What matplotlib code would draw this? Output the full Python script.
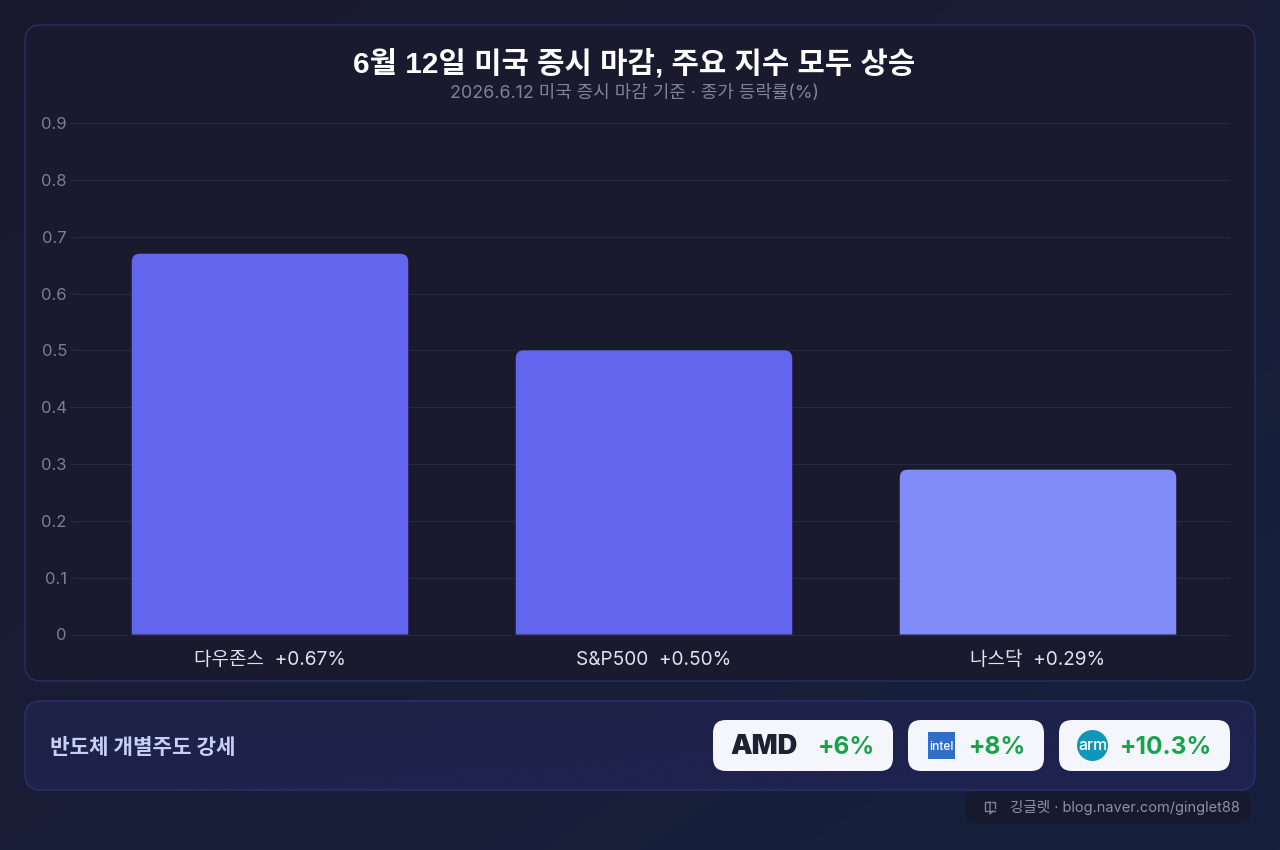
import numpy as np
import matplotlib
matplotlib.use('Agg')
import matplotlib.pyplot as plt
from matplotlib.patches import FancyBboxPatch, PathPatch, Rectangle, Circle
from matplotlib.path import Path

plt.rcParams['font.family'] = ['Inter', 'Noto Sans CJK KR', 'DejaVu Sans']

W, H = 1280, 850

TITLE = "6월 12일 미국 증시 마감, 주요 지수 모두 상승"
SUBTITLE = "2026.6.12 미국 증시 마감 기준 · 종가 등락률(%)"
BANNER = "반도체 개별주도 강세"
CREDIT = "깅글렛 · blog.naver.com/ginglet88"

indices = ["다우존스", "S&P500", "나스닥"]
changes = [0.67, 0.50, 0.29]
bar_colors = ["#6265ee", "#6265ee", "#818cf8"]
y_ticks = [0, 0.1, 0.2, 0.3, 0.4, 0.5, 0.6, 0.7, 0.8, 0.9]
y_tick_labels = ["0", "0.1", "0.2", "0.3", "0.4", "0.5", "0.6", "0.7", "0.8", "0.9"]

stocks = ["AMD", "intel", "arm"]
stock_gains = ["+6%", "+8%", "+10.3%"]


def rounded_box(ax, x0, y0, x1, y1, r, **kw):
    box = FancyBboxPatch((x0 + r, y0 + r), x1 - x0 - 2 * r, y1 - y0 - 2 * r,
                         boxstyle=f"round,pad={r},rounding_size={r}", **kw)
    ax.add_patch(box)
    return box


def diagonal_gradient(ax, extent, c0, c1, clip=None, zorder=1):
    c0 = np.array(matplotlib.colors.to_rgb(c0))
    c1 = np.array(matplotlib.colors.to_rgb(c1))
    xx, yy = np.meshgrid(np.linspace(0, 1, 200), np.linspace(0, 1, 200))
    t = ((xx + yy) / 2)[..., None]
    im = ax.imshow(c0 + (c1 - c0) * t, extent=extent, aspect='auto',
                   interpolation='bilinear', zorder=zorder)
    if clip is not None:
        im.set_clip_path(clip)
    return im


def top_rounded_bar(ax, x, width, height, rx, ry, color):
    # bar with only its two upper corners rounded, in data units
    l, r = x - width / 2, x + width / 2
    verts = [(l, 0), (l, height - ry), (l, height), (l + rx, height),
             (r - rx, height), (r, height), (r, height - ry), (r, 0), (l, 0)]
    codes = [Path.MOVETO, Path.LINETO, Path.CURVE3, Path.CURVE3,
             Path.LINETO, Path.CURVE3, Path.CURVE3, Path.LINETO, Path.CLOSEPOLY]
    ax.add_patch(PathPatch(Path(verts, codes), facecolor=color, edgecolor='none', zorder=3))


fig = plt.figure(figsize=(W / 100, H / 100), dpi=100)

# page layer, laid out in pixels
bg = fig.add_axes([0, 0, 1, 1], zorder=0)
bg.axis('off')
diagonal_gradient(bg, (0, W, H, 0), "#1a1a2e", "#16213e")

rounded_box(bg, 25, 25, 1255, 681, 16, facecolor="#1a1a2e", edgecolor="#2d2f6a", linewidth=0.9, zorder=2)

banner = rounded_box(bg, 25, 701, 1255, 790, 16, facecolor="none", edgecolor="#2f3272", linewidth=0.9, zorder=3)
diagonal_gradient(bg, (25, 1255, 790, 701), "#1e2347", "#1e2250", clip=banner, zorder=2)
bg.set_xlim(0, W)
bg.set_ylim(H, 0)

bg.text(634, 64, TITLE, ha='center', va='center', fontsize=21.4, fontweight='bold',
        color='white', family=['Liberation Sans', 'Noto Sans CJK KR'], zorder=5)
bg.text(634, 93, SUBTITLE, ha='center', va='center', fontsize=12.9, color="#7f8398", zorder=5)

bg.text(50, 747.5, BANNER, ha='left', va='center', fontsize=15.3, fontweight='bold', color="#c7d0f8", zorder=5)

# stock pills
pills = [(713, 893), (908, 1044), (1059, 1230)]
gain_x = [846, 997.5, 1165.5]
for (x0, x1), gain, gx in zip(pills, stock_gains, gain_x):
    rounded_box(bg, x0, 720, x1, 771, 13, facecolor="#f4f6fb", edgecolor='none', zorder=4)
    bg.text(gx, 747.5, gain, ha='center', va='center', fontsize=17.6, fontweight='bold', color="#16a34a", zorder=6)

bg.text(764, 747, stocks[0], ha='center', va='center', fontsize=19.6, fontweight='black', color="#1a2233", zorder=6)
bg.add_patch(Rectangle((928, 732), 27, 27, facecolor="#2f6fc9", edgecolor='none', zorder=5))
bg.text(941.5, 746.5, stocks[1], ha='center', va='center', fontsize=8.6, fontweight='medium', color='white', zorder=6)
bg.add_patch(Circle((1092.5, 745.5), 15.5, facecolor="#0f96bb", edgecolor='none', zorder=5))
bg.text(1092.5, 745.5, stocks[2], ha='center', va='center', fontsize=11.4, fontweight='medium', color='white', zorder=6)

# credit tag with its small book glyph
rounded_box(bg, 965, 791, 1251, 824, 14, facecolor="#161a2e", edgecolor='none', zorder=4)
bg.plot([995, 985, 985, 990], [811, 811, 802, 802], color="#7d8194", linewidth=1, zorder=5)
bg.plot([992, 995, 995], [802, 802, 808], color="#7d8194", linewidth=1, zorder=5)
bg.plot([990, 990, 993], [802, 814, 811], color="#7d8194", linewidth=1, zorder=5)
bg.text(1010, 807.5, CREDIT, ha='left', va='center', fontsize=10.5, color="#8d91a6", zorder=5)
bg.set_xlim(0, W)
bg.set_ylim(H, 0)

# bar chart
px_left, px_right, px_top, px_bottom = 78, 1230, 123, 634.5
ax = fig.add_axes([px_left / W, 1 - px_bottom / H, (px_right - px_left) / W, (px_bottom - px_top) / H], zorder=1)
ax.patch.set_alpha(0)
ax.set_xlim(-0.5, 2.5)
ax.set_ylim(0, 0.9)
for s in ax.spines.values():
    s.set_visible(False)

ax.set_yticks(y_ticks)
ax.set_yticklabels(y_tick_labels, fontsize=12, color="#7b7f94")
ax.tick_params(axis='y', length=6, width=0.8, color="#26283f", pad=2)
ax.grid(axis='y', color="#26283f", linewidth=0.8)
for line in ax.get_ygridlines():
    line.set_clip_on(False)
    line.set_solid_capstyle('butt')
ax.set_axisbelow(True)

x_pos = np.arange(len(indices))
ax.set_xticks(x_pos)
ax.set_xticklabels([f"{n}  +{v:.2f}%" for n, v in zip(indices, changes)], fontsize=13.7, color="#dfe3ee")
ax.tick_params(axis='x', length=0, pad=12)

rx = 8 / ((px_right - px_left) / 3)
ry = 8 / ((px_bottom - px_top) / 0.9)
for x, v, c in zip(x_pos, changes, bar_colors):
    top_rounded_bar(ax, x, 0.72, v, rx, ry, c)

fig.savefig("out.png", dpi=100, facecolor="#1a1a2e")
